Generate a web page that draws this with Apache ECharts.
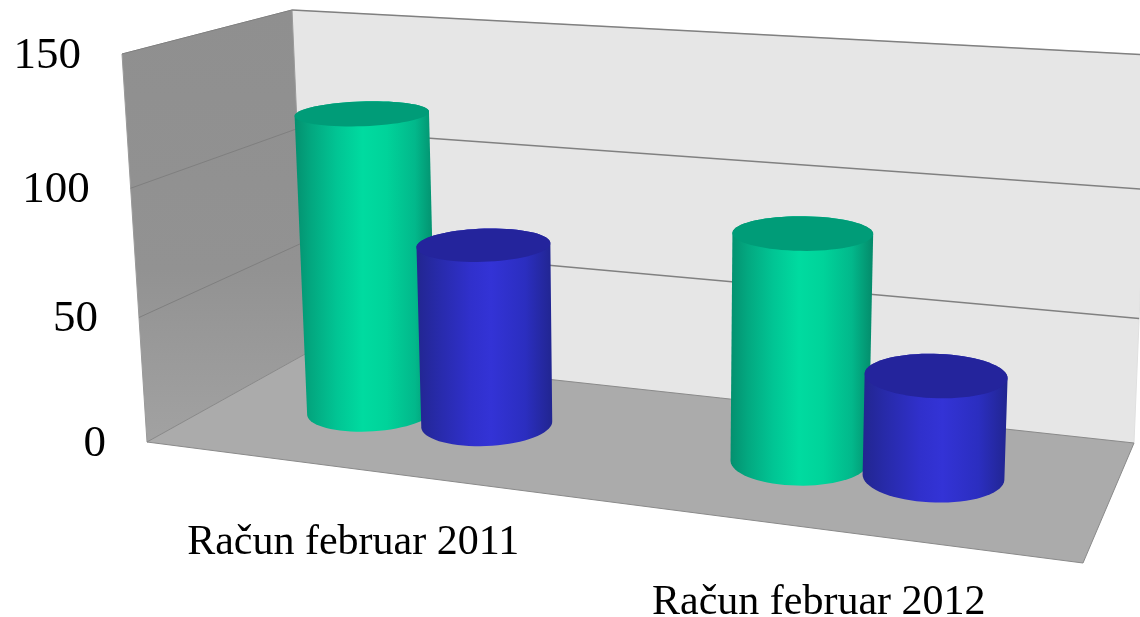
<!DOCTYPE html>
<html>
<head>
<meta charset="utf-8">
<style>html,body{margin:0;padding:0;background:#fff}#main{width:1140px;height:617px}</style>
<script src="https://cdn.jsdelivr.net/npm/echarts@6/dist/echarts.min.js"></script>
</head>
<body>
<div id="main"></div>
<script>
// podaci
const categories = ['Račun februar 2011', 'Račun februar 2012']
const greenValues = [121, 88]
const blueValues = [73, 39]
const yTicks = [0, 50, 100, 150]

// uglovi 3D kutije u pikselima: F = napred, B = pozadi, L/R = levo/desno
const floor = [[147, 442], [1083, 563], [1134, 443], [307, 353]]
const ceil = [[122, 54], [1099, 114], [1150, 55], [292, 10]]
const yPersp = 0.945

function homography (q) {
  let [[x0, y0], [x1, y1], [x2, y2], [x3, y3]] = q
  let dx1 = x1 - x2, dx2 = x3 - x2, sx = x0 - x1 + x2 - x3
  let dy1 = y1 - y2, dy2 = y3 - y2, sy = y0 - y1 + y2 - y3
  let den = dx1 * dy2 - dx2 * dy1
  let g = (sx * dy2 - dx2 * sy) / den
  let h = (dx1 * sy - sx * dy1) / den
  let a = x1 - x0 + g * x1, b = x3 - x0 + h * x3
  let d = y1 - y0 + g * y1, e = y3 - y0 + h * y3
  return (u, w) => {
    let s = g * u + h * w + 1
    return [(a * u + b * w + x0) / s, (d * u + e * w + y0) / s]
  }
}
const floorH = homography(floor)
const ceilH = homography(ceil)

// u: duz kategorija, w: dubina, t: visina 0-1
function project (u, w, t) {
  let p0 = floorH(u, w)
  let p1 = ceilH(u, w)
  let tp = t * yPersp / (t * yPersp + 1 - t)
  return [p0[0] + (p1[0] - p0[0]) * tp, p0[1] + (p1[1] - p0[1]) * tp]
}

// visina iz skale ose
function heightOf (api, value) {
  let y0 = api.coord([0, 0])[1]
  let y1 = api.coord([0, 150])[1]
  return (api.coord([0, value])[1] - y0) / (y1 - y0)
}

// sredina kategorije kao udeo sirine grida
function bandCenter (params, api, cat) {
  return (api.coord([cat, 0])[0] - params.coordSys.x) / params.coordSys.width
}

function renderBox (params, api) {
  let poly = (pts, fill, stroke) => ({ type: 'polygon', shape: { points: pts }, style: { fill: fill, stroke: stroke, lineWidth: 1 } })
  return {
    type: 'group',
    children: [
      poly([project(0, 1, 0), project(1, 1, 0), project(1, 1, 1), project(0, 1, 1)], '#e6e6e6', '#e0e0e0'),
      poly([project(0, 0, 0), project(0, 1, 0), project(0, 1, 1), project(0, 0, 1)], {
        type: 'linear', x: 0, y: 0, x2: 0, y2: 1,
        colorStops: [{ offset: 0, color: '#8f8f8f' }, { offset: 0.6, color: '#929292' }, { offset: 1, color: '#a2a2a2' }]
      }, '#9a9a9a'),
      poly([project(0, 0, 0), project(1, 0, 0), project(1, 1, 0), project(0, 1, 0)], '#ababab', '#8a8a8a')
    ]
  }
}

function renderGrid (params, api) {
  let t = heightOf(api, api.value(0))
  let line = (a, b, w, c) => ({ type: 'line', shape: { x1: a[0], y1: a[1], x2: b[0], y2: b[1] }, style: { stroke: c, lineWidth: w } })
  return {
    type: 'group',
    children: [line(project(0, 0, t), project(0, 1, t), 1, '#7f7f7f'), line(project(0, 1, t), project(1, 1, t), 1.5, '#808080')]
  }
}

function cylinder (offset, colors) {
  return function (params, api) {
    let cat = api.value(0)
    let t = heightOf(api, api.value(1))
    let u0 = bandCenter(params, api, cat) + offset
    let w0 = 0.51
    let ru = 0.0715
    let rw = 0.215
    let n = 72
    let ring = (h) => {
      let pts = []
      for (let i = 0; i < n; i++) {
        let a = 2 * Math.PI * i / n
        pts.push(project(u0 + ru * Math.cos(a), w0 + rw * Math.sin(a), h))
      }
      return pts
    }
    let extremes = (pts) => {
      let l = 0, r = 0
      pts.forEach((p, i) => {
        if (p[0] < pts[l][0]) l = i
        if (p[0] > pts[r][0]) r = i
      })
      return [l, r]
    }
    let arc = (pts, from, to) => {
      let out = []
      for (let i = from; ; i = (i + 1) % n) {
        out.push(pts[i])
        if (i === to) break
      }
      return out
    }
    let base = ring(0)
    let top = ring(t)
    let [bl, br] = extremes(base)
    let [tl, tr] = extremes(top)
    let body = arc(base, bl, br).concat(arc(top, tr, tl))
    return {
      type: 'group',
      children: [
        {
          type: 'polygon',
          shape: { points: body },
          style: { fill: { type: 'linear', x: 0, y: 0, x2: 1, y2: 0, colorStops: colors.side } }
        },
        { type: 'polygon', shape: { points: top }, style: { fill: colors.top } }
      ]
    }
  }
}

// natpis ispod prednje ivice poda
function renderLabel (params, api) {
  let cat = api.value(0)
  let p = project(bandCenter(params, api, cat), 0, 0)
  return {
    type: 'text',
    style: {
      text: categories[cat],
      x: p[0],
      y: p[1] + 74,
      align: 'center',
      verticalAlign: 'middle',
      fontFamily: 'Liberation Serif',
      fontSize: 42,
      fill: '#000'
    }
  }
}

// oznake ose prate kosu ivicu bocnog zida
function renderTick (params, api) {
  let value = api.value(0)
  let p = project(0, 0, heightOf(api, value))
  return {
    type: 'text',
    style: {
      text: String(value),
      x: p[0] - 41,
      y: p[1] + 2,
      align: 'right',
      verticalAlign: 'middle',
      fontFamily: 'Liberation Serif',
      fontSize: 45,
      fill: '#000'
    }
  }
}

const greenColors = {
  top: '#009c78',
  side: [
    { offset: 0, color: '#04906f' }, { offset: 0.12, color: '#03a880' }, { offset: 0.3, color: '#01c594' },
    { offset: 0.48, color: '#00dba0' }, { offset: 0.65, color: '#00d39a' }, { offset: 0.85, color: '#02b88b' },
    { offset: 1, color: '#048a6a' }
  ]
}
const blueColors = {
  top: '#24249c',
  side: [
    { offset: 0, color: '#222690' }, { offset: 0.15, color: '#272aa8' }, { offset: 0.4, color: '#3030cc' },
    { offset: 0.55, color: '#3333d6' }, { offset: 0.8, color: '#2b2ec0' }, { offset: 1, color: '#212590' }
  ]
}

let chart = echarts.init(document.getElementById('main'))
chart.setOption({
  animation: false,
  backgroundColor: '#fff',
  grid: { left: 147, top: 58, width: 936, height: 387 },
  xAxis: { type: 'category', data: categories, show: false },
  yAxis: {
    type: 'value',
    min: 0,
    max: 150,
    interval: 50,
    axisLine: { show: false },
    axisTick: { show: false },
    splitLine: { show: false },
    axisLabel: { show: false }
  },
  series: [
    { type: 'custom', name: 'box', silent: true, renderItem: renderBox, data: [[0, 0]], encode: { x: 0, y: 1 } },
    { type: 'custom', name: 'grid', silent: true, renderItem: renderGrid, data: yTicks.slice(1, 3).map(v => [v]) },
    { type: 'custom', name: 'top', silent: true, renderItem: renderGrid, data: [[150]] },
    { type: 'custom', name: '2011-2012 a', renderItem: cylinder(-0.071, greenColors), data: greenValues.map((v, i) => [i, v]), encode: { x: 0, y: 1 }, z: 3 },
    { type: 'custom', name: '2011-2012 b', renderItem: cylinder(0.071, blueColors), data: blueValues.map((v, i) => [i, v]), encode: { x: 0, y: 1 }, z: 4 },
    { type: 'custom', name: 'labels', silent: true, renderItem: renderLabel, data: categories.map((c, i) => [i]) },
    { type: 'custom', name: 'ticks', silent: true, renderItem: renderTick, data: yTicks.map(v => [v]) }
  ]
})
</script>
</body>
</html>
